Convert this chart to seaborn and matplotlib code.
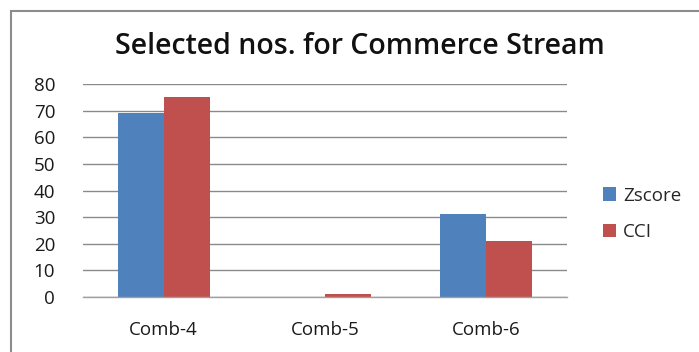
import matplotlib
matplotlib.use("Agg")
import matplotlib.pyplot as plt
import seaborn as sns
import pandas as pd
from matplotlib.patches import Rectangle

categories = ["Comb-4", "Comb-5", "Comb-6"]
zscore = [69, 0, 31]
cci = [75, 1, 21]
series_names = ["Zscore", "CCI"]
yticks = [0, 10, 20, 30, 40, 50, 60, 70, 80]

df = pd.DataFrame({
    "cat": categories * 2,
    "val": zscore + cci,
    "series": [series_names[0]] * 3 + [series_names[1]] * 3,
})

sns.set_theme(style="white")
plt.rcParams['font.family'] = ['Open Sans', 'DejaVu Sans']

fig = plt.figure(figsize=(6.99, 3.52), dpi=100)
ax = fig.add_axes([83/699, 1 - 297/352, (567-83)/699, (297-84)/352])

sns.barplot(data=df, x="cat", y="val", hue="series", ax=ax,
            palette=["#4F81BD", "#C0504D"], width=0.57, saturation=1,
            edgecolor="none", linewidth=0)

ax.set_ylim(0, 80)
ax.set_yticks(yticks)
ax.set_xlim(-0.5, 2.5)
ax.yaxis.grid(True, color="#8a8a8a", linewidth=1.0)
ax.set_axisbelow(True)
for s in ["left", "right", "top"]:
    ax.spines[s].set_visible(False)
ax.spines["bottom"].set_color("#a0a0a0")
ax.spines["bottom"].set_linewidth(1.0)
ax.set_xlabel("")
ax.set_ylabel("")
ax.tick_params(axis="both", length=0, labelsize=13.5, colors="#1a1a1a")
ax.tick_params(axis="x", pad=17)
ax.tick_params(axis="y", pad=20)

leg = ax.legend(loc="center left", bbox_to_anchor=(1.04, 0.39), frameon=False,
                fontsize=13.5, handlelength=0.7, handleheight=0.7,
                handletextpad=0.35, labelspacing=1.0)

fig.text(360/699, 1 - 46/352, "Selected nos. for Commerce Stream",
         ha="center", va="center", fontsize=20.5, fontweight="semibold",
         color="#111111")

fig.patches.append(Rectangle((11/699, -0.1), 1.2, 1 - 11/352 + 0.1,
                             transform=fig.transFigure, fill=False,
                             edgecolor="#8c8c8c", linewidth=1.5))

fig.savefig("out.png", dpi=100)
